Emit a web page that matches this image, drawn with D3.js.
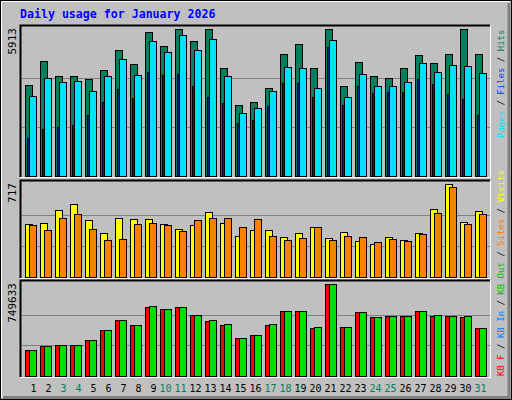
<!DOCTYPE html>
<html><head><meta charset="utf-8">
<script src="https://cdn.jsdelivr.net/npm/d3@7"></script>
<style>body{margin:0;background:#fff}svg{display:block}</style>
</head><body>
<script>
var days = d3.range(1, 32),
  weekend = [3, 4, 10, 11, 17, 18, 24, 25, 31],
  hits = [3647,4610,4007,4007,3886,4248,5052,4490,5777,5213,5897,5415,5913,4329,2841,2962,3525,4892,5294,4329,5913,3605,4570,4007,3927,4329,4851,4530,4892,5900,4892],
  files = [3203,3927,3766,3806,3404,4007,4691,4047,5415,4972,5655,5052,5494,4007,2520,2721,3404,4369,4329,3525,5455,3163,4087,3605,3605,3766,4530,4168,4449,4409,4128],
  pages = [1515,1877,1957,2038,2440,2962,3485,3123,4168,4047,4087,3605,3163,2922,2118,2239,2801,3726,3726,3163,5173,2841,3605,3324,3364,3364,3886,3686,3284,3083,2440],
  visits = [406,414,514,560,437,337,453,445,445,406,368,399,499,414,314,360,360,306,337,383,298,345,275,252,306,283,337,522,717,422,507],
  sites = [399,360,453,483,368,283,291,406,414,399,352,437,453,453,383,445,314,283,298,383,283,314,306,268,291,275,329,491,692,406,483],
  kbF = [209000,242000,250000,250000,291000,372000,454000,413000,560000,543000,560000,495000,446000,413000,307000,332000,413000,527000,527000,389000,747000,397000,519000,478000,486000,486000,527000,486000,486000,478000,389000],
  kbIn = [209000,242000,250000,250000,291000,372000,454000,413000,568000,543000,560000,495000,454000,421000,307000,332000,421000,527000,527000,397000,749633,397000,519000,478000,486000,486000,527000,495000,486000,486000,389000],
  maxHits = 5913, maxVisits = 717, maxKB = 749633;

var W = 512, H = 400;
var svg = d3.select("body").append("svg").attr("width", W).attr("height", H);
var mono = "DejaVu Sans Mono";

// frame
svg.append("rect").attr("x", 0).attr("y", 0).attr("width", W).attr("height", H).attr("fill", "#c0c0c0");
svg.append("rect").attr("x", 0.5).attr("y", 0.5).attr("width", W - 1).attr("height", H - 1).attr("fill", "none").attr("stroke", "#000");
svg.append("path").attr("d", "M1.5,398V1.5H510").attr("stroke", "#fff").attr("fill", "none");
svg.append("path").attr("d", "M509,3V397.5H3").attr("stroke", "#808080").attr("stroke-width", 3).attr("fill", "none");

svg.append("text").attr("x", 20).attr("y", 18).attr("font-family", mono).attr("font-weight", "bold")
  .attr("font-size", 11.6).attr("fill", "#0000ff").text("Daily usage for January 2026");

var x = d3.scaleLinear().domain([1, 31]).range([25, 475]);

var panels = [
  { top: 25, bot: 177, base: 176, peak: 29, max: maxHits, label: "5913" },
  { top: 180, bot: 278, base: 277, peak: 184, max: maxVisits, label: "717" },
  { top: 280, bot: 377, base: 376, peak: 284, max: maxKB, label: "749633" }
];
panels.forEach(function(p) {
  p.y = d3.scaleLinear().domain([0, p.max]).range([p.base, p.peak]);
  svg.append("path").attr("d", "M20.5," + p.bot + "V" + (p.top + 0.5) + "H490").attr("stroke", "#000").attr("stroke-width", 2).attr("fill", "none");
  svg.append("path").attr("d", "M20," + (p.bot + 0.5) + "H490.5V" + p.top).attr("stroke", "#fff").attr("fill", "none");
  svg.selectAll(null).data([p.max / 3, p.max * 2 / 3]).enter().append("line")
    .attr("x1", 22).attr("x2", 490).attr("y1", function(d) { return Math.round(p.y(d)) + 0.5; })
    .attr("y2", function(d) { return Math.round(p.y(d)) + 0.5; }).attr("stroke", "#808080");
  svg.append("text").attr("transform", "translate(16," + (p.peak - 1) + ") rotate(-90)")
    .attr("text-anchor", "end").attr("font-family", mono).attr("font-size", 11).text(p.label);
});

function bars(vals, p, dx, w, color) {
  svg.selectAll(null).data(vals).enter().append("rect")
    .attr("x", function(d, i) { return x(days[i]) + dx + 0.5; })
    .attr("y", function(d) { return Math.round(p.y(d)) + 0.5; })
    .attr("width", w)
    .attr("height", function(d) { return p.base - Math.round(p.y(d)); })
    .attr("fill", color).attr("stroke", "#000");
}
bars(hits, panels[0], 0, 7, "#00805c");
bars(files, panels[0], 4, 7, "#00e0ff");
bars(pages, panels[0], 2, 1.5, "#0040ff");
bars(visits, panels[1], 0, 7, "#ffff00");
bars(sites, panels[1], 4, 7, "#ff8000");
bars(kbF, panels[2], 0, 7, "#ff0000");
bars(kbIn, panels[2], 4, 7, "#00e000");

svg.selectAll(null).data(days).enter().append("text")
  .attr("x", function(d) { return x(d) + 11.5; }).attr("y", 392)
  .attr("text-anchor", "end").attr("font-family", mono).attr("font-size", 10)
  .attr("fill", function(d) { return weekend.indexOf(d) >= 0 ? "#00805c" : "#000"; })
  .text(function(d) { return d; });

function legend(yEnd, parts, anchor) {
  var t = svg.append("text").attr("transform", "translate(504," + yEnd + ") rotate(-90)")
    .attr("text-anchor", anchor).attr("font-family", mono).attr("font-size", 9);
  parts.forEach(function(p) { t.append("tspan").attr("fill", p[1]).text(p[0]); });
}
legend(138, [["Pages", "#00e0ff"], [" / ", "#000"], ["Files", "#0040ff"], [" / ", "#000"], ["Hits", "#00805c"]], "start");
legend(376, [["KB F", "#ff0000"], [" / ", "#000"], ["KB In", "#0080ff"], [" / ", "#000"], ["KB Out", "#00c000"], [" / ", "#000"], ["Sites", "#ff8000"], [" / ", "#000"], ["Visits", "#ffff00"]], "start");
</script>
</body></html>
